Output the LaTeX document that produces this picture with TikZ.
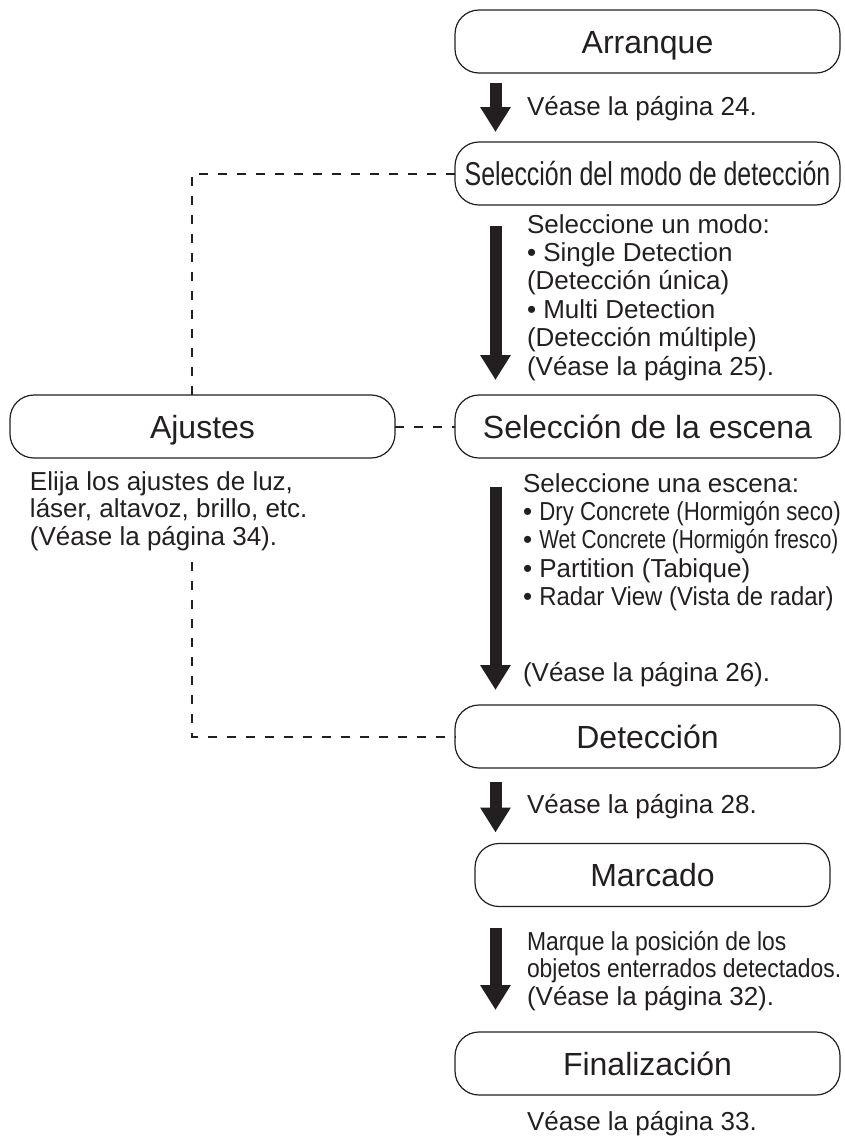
\documentclass[tikz,border=0pt]{standalone}
\usepackage{fontspec}
\setmainfont{Liberation Sans}
\usepackage{graphicx}
\usetikzlibrary{arrows.meta}
\definecolor{ink}{HTML}{231F20}
\newcommand{\sqz}[2]{\scalebox{#1}[1]{#2}}
\newcommand{\fl}{\rule{0pt}{20pt}}
\begin{document}
\begin{tikzpicture}[x=1pt,y=-1pt]
\tikzset{
  box/.style={draw=ink, line width=1.2pt, rounded corners=24pt, minimum height=63pt,
    inner sep=0pt, outer sep=0pt, text height=23pt, text depth=0pt, text=ink, fill=white,
    font=\fontsize{32}{36}\selectfont},
  txt/.style={anchor=north west, align=left, inner sep=0pt, outer sep=0pt, text=ink,
    font=\fontsize{26}{28.4}\selectfont},
  txtb/.style={txt, font=\fontsize{26}{27.5}\selectfont},
  bigarrow/.style={draw=ink, line width=12pt, -{Triangle[width=29pt,length=25pt]}},
  dashlink/.style={draw=ink, line width=2pt, dash pattern=on 9pt off 10pt}
}
\useasboundingbox (0,0) rectangle (845,1136);

\coordinate (c1) at (192,173.5);
\coordinate (c2) at (192,736.5);
\coordinate (c3) at (192,562);

% boxes
\node[box, minimum width=385pt] (arr) at (647.5,41.5) {Arranque};
\node[box, minimum width=385pt] (modo) at (647.5,173.5) {\fontsize{33}{36}\selectfont\sqz{0.755}{Selección del modo de detección}};
\node[box, minimum width=385pt] (esc) at (647.5,426.5) {Selección de la escena};
\node[box, minimum width=385pt] (aju) at (202.5,426.5) {Ajustes};
\node[box, minimum width=385pt] (det) at (647.5,736.5) {Detección};
\node[box, minimum width=355pt] (mar) at (652.5,875) {Marcado};
\node[box, minimum width=385pt] (fin) at (647.5,1063.5) {Finalización};

% dashed links
\draw[dashlink] (modo.west) -- (c1) -- (c1 |- aju.north);
\draw[dashlink] (aju.east) -- (esc.west);
\draw[dashlink] (c3) -- (c2) -- (det.west);

% texts
\node[txt] (t24) at (527,95) {\fl Véase la página 24.};
\node[txt] (tmodo) at (527,213) {\fl Seleccione un modo:\\
• Single Detection\\
(Detección única)\\
• Multi Detection\\
(Detección múltiple)\\
(Véase la página 25).};
\node[txt] (tesc) at (523,472) {\fl Seleccione una escena:\\
• \sqz{0.855}{Dry Concrete (Hormigón seco)}\\
• \sqz{0.80}{Wet Concrete (Hormigón fresco)}\\
• Partition (Tabique)\\
• \sqz{0.92}{Radar View (Vista de radar)}};
\node[txt] (tesc2) at (523,661) {\fl (Véase la página 26).};
\node[txtb] (taju) at (30,470) {\fl Elija los ajustes de luz,\\
láser, altavoz, brillo, etc.\\
(Véase la página 34).};
\node[txt] (t28) at (527,793) {\fl Véase la página 28.};
\node[txtb] (tmar) at (527,930) {\fl \sqz{0.88}{Marque la posición de los}\\
\sqz{0.88}{objetos enterrados detectados.}\\
(Véase la página 32).};
\node[txt] (t33) at (527,1110) {\fl Véase la página 33.};

% arrows
\draw[bigarrow] ([xshift=40.5pt,yshift=-10pt]arr.south west) -- ([xshift=40.5pt,yshift=10pt]modo.north west);
\draw[bigarrow] ([xshift=40.5pt,yshift=-21pt]modo.south west) -- ([xshift=40.5pt,yshift=15pt]esc.north west);
\draw[bigarrow] ([xshift=40.5pt,yshift=-29pt]esc.south west) -- ([xshift=40.5pt,yshift=15pt]det.north west);
\draw[bigarrow] ([xshift=40.5pt,yshift=-14pt]det.south west) -- ([xshift=20.5pt,yshift=11pt]mar.north west);
\draw[bigarrow] ([xshift=20.5pt,yshift=-21pt]mar.south west) -- ([xshift=40.5pt,yshift=22pt]fin.north west);
\end{tikzpicture}
\end{document}
